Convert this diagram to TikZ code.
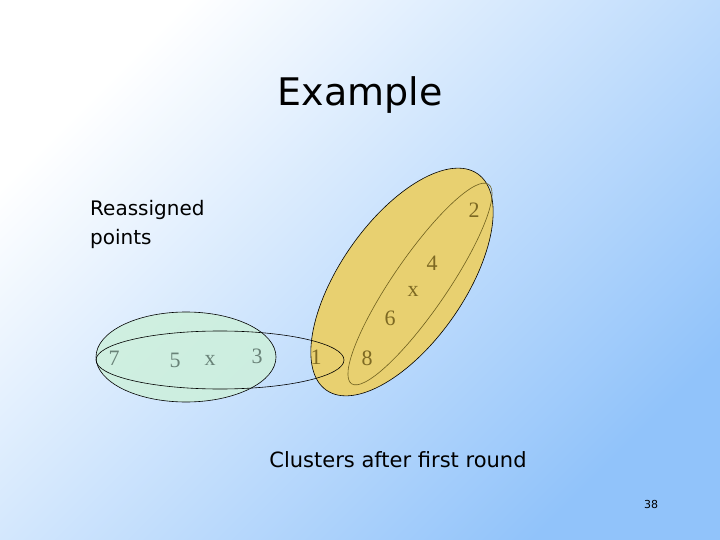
\documentclass[tikz,border=0pt]{standalone}
\usepackage{fontspec}
\setmainfont{Liberation Serif}
\newfontfamily\vfont{DejaVu Sans}
\definecolor{bgblue}{RGB}{145,195,250}
\definecolor{cgreen}{RGB}{205,240,220}
\definecolor{cyellow}{RGB}{232,208,112}
\definecolor{colive}{RGB}{110,95,30}
\definecolor{tgreen}{RGB}{105,130,120}
\definecolor{tyellow}{RGB}{125,105,35}
\begin{document}
\begin{tikzpicture}[x=1pt,y=-1pt,
  pt/.style={font=\fontsize{22}{24}\selectfont, inner sep=0pt},
  gpt/.style={pt, text=tgreen},
  ypt/.style={pt, text=tyellow},
  lab/.style={font=\vfont\fontsize{20}{29}\selectfont, align=left, inner sep=0pt}]
\useasboundingbox (0,0) rectangle (720,540);
\shade[top color=white, bottom color=bgblue, shading angle=45] (0,0) rectangle (720,540);
\node[font=\vfont\fontsize{38}{44}\selectfont, inner sep=0pt] (title) at (360,95) {Example};
\node[lab, anchor=north west] (re) at (90,200) {Reassigned\\points};
% green cluster
\fill[cgreen, fill opacity=0.85] (186,357) ellipse [x radius=90, y radius=45];
\draw[black, line width=0.6pt] (186,357) ellipse [x radius=90, y radius=45];
% yellow cluster
\fill[cyellow] (402,282) ellipse [x radius=132, y radius=62, rotate=55];
\draw[black, line width=0.6pt] (402,282) ellipse [x radius=132, y radius=62, rotate=55];
% old cluster outlines
\draw[black, line width=0.6pt] (220,360) ellipse [x radius=124, y radius=29];
\draw[colive, line width=0.6pt] (420,284) ellipse [x radius=121, y radius=27, rotate=55.5];
\node[gpt] (p7) at (114,358) {7};
\node[gpt] (p5) at (175,360) {5};
\node[gpt] (cx1) at (210,360) {x};
\node[gpt] (p3) at (257,356) {3};
\node[ypt] (p1) at (316,357) {1};
\node[ypt] (p8) at (367,358) {8};
\node[ypt] (p6) at (390,318) {6};
\node[ypt] (cx2) at (413,291) {x};
\node[ypt] (p4) at (432,263) {4};
\node[ypt] (p2) at (474,210) {2};
\node[font=\vfont\fontsize{21}{24}\selectfont, inner sep=0pt] (cap) at (398,460) {Clusters after first round};
\node[font=\vfont\fontsize{11}{12}\selectfont, inner sep=0pt] (pg) at (651,504) {38};
\end{tikzpicture}
\end{document}
